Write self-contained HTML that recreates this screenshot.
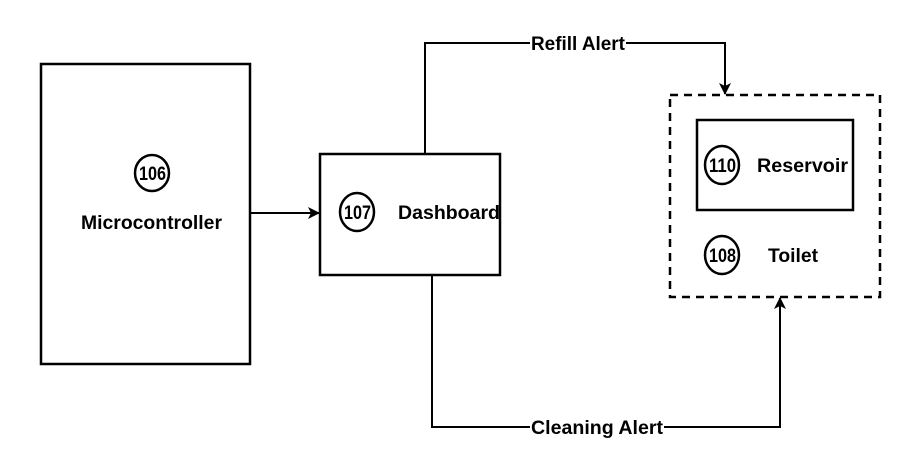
<!DOCTYPE html>
<html><head><style>body{margin:0;background:#fff}svg{display:block}text{font-family:"Liberation Sans",Arial,sans-serif;font-weight:bold;fill:#000}</style></head>
<body>
<svg width="918" height="462" viewBox="0 0 918 462" xmlns="http://www.w3.org/2000/svg">
<defs><marker id="a" markerWidth="12" markerHeight="12" refX="11" refY="6" orient="auto" markerUnits="userSpaceOnUse"><path d="M0,0 L12,6 L0,12 L3,6 Z" fill="#000"/></marker></defs>
<g fill="none" stroke="#000" stroke-width="2.5">
<rect x="41" y="64" width="209" height="300"/>
<rect x="320" y="154" width="180" height="121"/>
<rect x="670" y="95" width="210" height="202" stroke-dasharray="8,6"/>
<rect x="697" y="120" width="156" height="90"/>
<ellipse cx="152" cy="173" rx="17" ry="18"/>
<ellipse cx="357" cy="212" rx="17" ry="19"/>
<ellipse cx="722" cy="165" rx="17" ry="19"/>
<ellipse cx="722" cy="255" rx="17" ry="19"/>
<line x1="250" y1="213" x2="319" y2="213" stroke-width="2" marker-end="url(#a)"/>
<polyline points="425,154 425,43 725,43 725,94" stroke-width="2" marker-end="url(#a)"/>
<polyline points="432,275 432,427 780,427 780,298" stroke-width="2" marker-end="url(#a)"/>
</g>
<rect x="530" y="33" width="96" height="20" fill="#fff"/>
<rect x="530" y="417" width="134" height="20" fill="#fff"/>
<g font-size="19">
<text x="139" y="180" textLength="27" lengthAdjust="spacingAndGlyphs">106</text>
<text x="81" y="229" textLength="141" lengthAdjust="spacingAndGlyphs">Microcontroller</text>
<text x="344" y="219" textLength="27" lengthAdjust="spacingAndGlyphs">107</text>
<text x="709" y="172" textLength="27" lengthAdjust="spacingAndGlyphs">110</text>
<text x="709" y="262" textLength="27" lengthAdjust="spacingAndGlyphs">108</text>
<text x="531" y="50" textLength="94" lengthAdjust="spacingAndGlyphs">Refill Alert</text>
<text x="531" y="434" textLength="132" lengthAdjust="spacingAndGlyphs">Cleaning Alert</text>
<text x="398" y="219" textLength="102" lengthAdjust="spacingAndGlyphs">Dashboard</text>
<text x="757" y="172" textLength="91" lengthAdjust="spacingAndGlyphs">Reservoir</text>
<text x="768" y="262" textLength="50" lengthAdjust="spacingAndGlyphs">Toilet</text>
</g>
</svg>
</body></html>
